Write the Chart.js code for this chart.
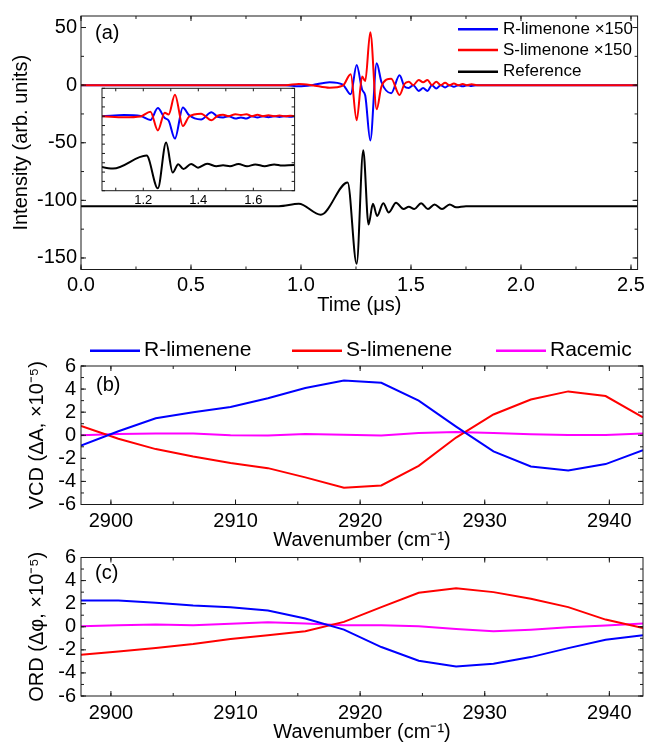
<!DOCTYPE html>
<html>
<head>
<meta charset="utf-8">
<script src="https://cdn.jsdelivr.net/npm/chart.js@4.4.1/dist/chart.umd.min.js"></script>
<style>
  html, body { margin: 0; padding: 0; background: #fff; }
  #fig { position: relative; width: 649px; height: 742px; }
  #fig canvas { position: absolute; left: 0; top: 0; }
</style>
</head>
<body>
<div id="fig">
  <canvas id="pulse" width="649" height="742"></canvas>
  <canvas id="zoom" width="649" height="742"></canvas>
  <canvas id="vcd" width="649" height="742"></canvas>
  <canvas id="ord" width="649" height="742"></canvas>
</div>
<script>
// time traces in µs; R and S signals are multiplied by 150
const pulseTime = [0, 0.93, 0.99, 1.05, 1.13, 1.19, 1.226, 1.253, 1.278, 1.292, 1.315, 1.344, 1.366, 1.41,
  1.448, 1.47, 1.49, 1.51, 1.535, 1.555, 1.575, 1.595, 1.615, 1.635, 1.655, 1.675, 1.695, 1.715,
  1.735, 1.755, 1.775, 1.80, 2.53];
const rPulse = [0, 0, -1, 0, 2.6, 0.5, -8, 17.5, -4, -9, -48, 19, 2.5, -7,
  8.5, -1, -2.5, 0, -5, -2.5, -5, 0, -3, 0, -2, 0, -1.5, 0,
  -1, 0, -0.8, 0, 0];
const sPulse = [0, 0, 1, 0, -2.3, -0.5, 9.5, -30.5, 7.5, 3.5, 46, -21, -1, 5.5,
  -8.5, 1, 3, 0, 4.5, 2.5, 4.5, 0, 3, 0, 2, 0, 1.5, 0,
  1, 0, 0.8, 0, 0];
const refTime = [0, 0.90, 0.99, 1.09, 1.212, 1.253, 1.283, 1.307, 1.327, 1.346, 1.374, 1.399, 1.432,
  1.466, 1.49, 1.515, 1.546, 1.577, 1.607, 1.641, 1.676, 1.705, 1.75, 2.53];
const refPulse = [-105, -105, -103, -112.5, -84.5, -155, -56.5, -121, -103, -113.5, -102.5, -110.5, -102,
  -107.5, -105.5, -107.5, -102.5, -107.5, -103.5, -107.5, -103.5, -106, -105, -105];

// spectra, in units of 1e-5
const wavenumbers = [2897.6, 2900.6, 2903.6, 2906.6, 2909.6, 2912.6, 2915.6, 2918.7,
  2921.7, 2924.7, 2927.7, 2930.7, 2933.7, 2936.7, 2939.7, 2942.7];
const vcdR = [-0.9, 0.35, 1.47, 2.0, 2.45, 3.2, 4.1, 4.75, 4.55, 3.0, 0.75, -1.4, -2.7, -3.05, -2.5, -1.3];
const vcdS = [0.8, -0.3, -1.2, -1.85, -2.4, -2.85, -3.65, -4.55, -4.35, -2.65, -0.2, 1.8, 3.1, 3.8, 3.4, 1.55];
const vcdRac = [0.0, 0.1, 0.15, 0.15, 0.0, -0.03, 0.1, 0.05, -0.03, 0.2, 0.28, 0.2, 0.08, 0.03, 0.03, 0.15];
const ordR = [2.28, 2.28, 2.08, 1.85, 1.7, 1.41, 0.71, -0.25, -1.76, -2.95, -3.44, -3.2, -2.63, -1.85, -1.12, -0.74];
const ordS = [-2.43, -2.14, -1.85, -1.5, -1.06, -0.74, -0.39, 0.42, 1.7, 2.95, 3.33, 3.0, 2.43, 1.7, 0.62, -0.1];
const ordRac = [0.04, 0.13, 0.19, 0.13, 0.25, 0.39, 0.28, 0.13, 0.13, 0.04, -0.19, -0.39, -0.25, -0.04, 0.1, 0.28];

const BLUE = '#0000ff', RED = '#ff0000', MAG = '#ff00ff';
const FONT = '"Liberation Sans", Arial, Helvetica, sans-serif';
Chart.defaults.font.family = FONT;
Chart.defaults.color = '#000';

const pts = (xs, ys) => xs.map((x, i) => ({x: x, y: ys[i]}));

function trace(label, xs, ys, color, extra) {
    return Object.assign({
        label: label,
        data: pts(xs, ys),
        borderColor: color,
        backgroundColor: color,
        borderWidth: 2,
        pointRadius: 0,
        fill: false
    }, extra || {});
}

// box frame, inward ticks on all four sides, panel letter and line key
function decor(o) {
    return {
        id: 'decor',
        beforeDatasetsDraw(chart) {
            if (!o.paper) return;
            const a = chart.chartArea;
            chart.ctx.save();
            chart.ctx.fillStyle = '#fff';
            chart.ctx.fillRect(a.left, a.top, a.width, a.height);
            chart.ctx.restore();
        },
        afterDraw(chart) {
            const ctx = chart.ctx, a = chart.chartArea;
            const x = chart.scales.x, y = chart.scales.y;
            ctx.save();
            ctx.strokeStyle = '#1a1a1a';
            ctx.lineWidth = 1;
            ctx.strokeRect(a.left, a.top, a.width, a.height);
            const marks = (scale, step, len, horiz) => {
                const k0 = Math.ceil(scale.min / step - 1e-6);
                const k1 = Math.floor(scale.max / step + 1e-6);
                ctx.beginPath();
                for (let k = k0; k <= k1; k++) {
                    const p = scale.getPixelForValue(k * step);
                    if (horiz) {
                        ctx.moveTo(p, a.bottom); ctx.lineTo(p, a.bottom - len);
                        ctx.moveTo(p, a.top); ctx.lineTo(p, a.top + len);
                    } else {
                        ctx.moveTo(a.left, p); ctx.lineTo(a.left + len, p);
                        ctx.moveTo(a.right, p); ctx.lineTo(a.right - len, p);
                    }
                }
                ctx.stroke();
            };
            o.xTicks.forEach(t => marks(x, t[0], t[1], true));
            o.yTicks.forEach(t => marks(y, t[0], t[1], false));
            ctx.fillStyle = '#000';
            ctx.textBaseline = 'middle';
            if (o.tag) {
                ctx.font = '20px ' + FONT;
                ctx.fillText(o.tag[0], o.tag[1], o.tag[2]);
            }
            if (o.key) {
                ctx.font = o.key.font + ' ' + FONT;
                chart.data.datasets.forEach((ds, i) => {
                    const kx = o.key.at[i][0], ky = o.key.at[i][1];
                    ctx.strokeStyle = ds.borderColor;
                    ctx.lineWidth = 2.5;
                    ctx.beginPath();
                    ctx.moveTo(kx, ky);
                    ctx.lineTo(kx + o.key.len, ky);
                    ctx.stroke();
                    ctx.fillText(ds.label, kx + o.key.len + o.key.gap, ky);
                });
            }
            ctx.restore();
        }
    };
}

const noGrid = {display: false, drawTicks: false};

function axisTitle(text, pad) {
    return {display: true, text: text, font: {size: 20, lineHeight: 1}, padding: pad};
}

function tickOpts(step, pad, size, fmt) {
    const t = {stepSize: step, padding: pad, font: {size: size}, maxRotation: 0,
        autoSkip: false, includeBounds: false};
    if (fmt) t.callback = fmt;
    return t;
}

const baseOpts = {
    responsive: false,
    animation: false,
    events: [],
    plugins: {legend: {display: false}, tooltip: {enabled: false}}
};

// (a) time-domain signals
new Chart(document.getElementById('pulse'), {
    type: 'line',
    data: {
        datasets: [
            trace('R-limenone ×150', pulseTime, rPulse, BLUE, {order: 2, cubicInterpolationMode: 'monotone'}),
            trace('S-limenone ×150', pulseTime, sPulse, RED, {order: 1, cubicInterpolationMode: 'monotone'}),
            trace('Reference', refTime, refPulse, '#000', {order: 0, cubicInterpolationMode: 'monotone'})
        ]
    },
    options: Object.assign({}, baseOpts, {
        layout: {padding: {left: 0, top: 15, right: 9, bottom: 427}},
        scales: {
            x: {
                type: 'linear', min: 0, max: 2.53,
                grid: noGrid, border: {display: false},
                ticks: tickOpts(0.5, 4, 20, v => v.toFixed(1)),
                title: axisTitle('Time (μs)', {top: 0, bottom: 0}),
                afterFit: s => { s.height = 45.5; }
            },
            y: {
                min: -160, max: 60,
                grid: noGrid, border: {display: false},
                ticks: tickOpts(50, 4, 20),
                title: axisTitle('Intensity (arb. units)', {top: 11, bottom: 0}),
                afterFit: s => { s.width = 81; }
            }
        }
    }),
    plugins: [decor({
        xTicks: [[0.5, 5], [0.25, 3]],
        yTicks: [[50, 5], [25, 3]],
        tag: ['(a)', 95, 33],
        key: {at: [[458, 29.3], [458, 50], [458, 71.7]], len: 40, gap: 5, font: '17px'}
    })]
});

// (a) inset, same traces around the pulse
new Chart(document.getElementById('zoom'), {
    type: 'line',
    data: {
        datasets: [
            trace('R', pulseTime, rPulse, BLUE, {order: 2, cubicInterpolationMode: 'monotone'}),
            trace('S', pulseTime, sPulse, RED, {order: 1, cubicInterpolationMode: 'monotone'}),
            trace('Ref', refTime, refPulse, '#000', {order: 0, cubicInterpolationMode: 'monotone'})
        ]
    },
    options: Object.assign({}, baseOpts, {
        layout: {padding: {left: 102, top: 88.3, right: 354.4, bottom: 533.3}},
        scales: {
            x: {
                type: 'linear', min: 1.05, max: 1.75,
                grid: noGrid, border: {display: false},
                ticks: tickOpts(0.2, 2, 13, v => v.toFixed(1)),
                afterFit: s => { s.height = 18; }
            },
            y: {min: -160, max: 60, display: false}
        }
    }),
    plugins: [decor({paper: true, xTicks: [[0.1, 3]], yTicks: [[20, 3]]})]
});

function spectrum(id, top, title, r, s, rac, tag, withKey) {
    const opts = {
        xTicks: [[10, 5], [5, 3]],
        yTicks: [[2, 5], [1, 3]],
        tag: tag
    };
    if (withKey) {
        opts.key = {at: [[90, 350.7], [292, 350.7], [496, 350.7]], len: 50, gap: 4, font: '21px'};
    }
    const bottom = top + 138.5;
    const xHeight = 46;
    return new Chart(document.getElementById(id), {
        type: 'line',
        data: {
            datasets: [
                trace('R-limenene', wavenumbers, r, BLUE),
                trace('S-limenene', wavenumbers, s, RED),
                trace('Racemic', wavenumbers, rac, MAG)
            ]
        },
        options: Object.assign({}, baseOpts, {
            layout: {padding: {left: 0, top: top, right: 6, bottom: 742 - bottom - xHeight}},
            scales: {
                x: {
                    type: 'linear', min: 2897.6, max: 2942.7,
                    grid: noGrid, border: {display: false},
                    ticks: tickOpts(10, 5, 20, v => String(v)),
                    title: axisTitle('Wavenumber (cm⁻¹)', {top: 0, bottom: 0}),
                    afterFit: sc => { sc.height = xHeight; }
                },
                y: {
                    min: -6, max: 6,
                    grid: noGrid, border: {display: false},
                    ticks: tickOpts(2, 5, 20),
                    title: axisTitle(title, {top: 27, bottom: 0}),
                    afterFit: sc => { sc.width = 81; }
                }
            }
        }),
        plugins: [decor(opts)]
    });
}

// (b) VCD and (c) ORD spectra
spectrum('vcd', 366, 'VCD (ΔA, ×10⁻⁵)', vcdR, vcdS, vcdRac, ['(b)', 96, 385], true);
spectrum('ord', 557.5, 'ORD (Δφ, ×10⁻⁵)', ordR, ordS, ordRac, ['(c)', 95, 573], false);
</script>
</body>
</html>
